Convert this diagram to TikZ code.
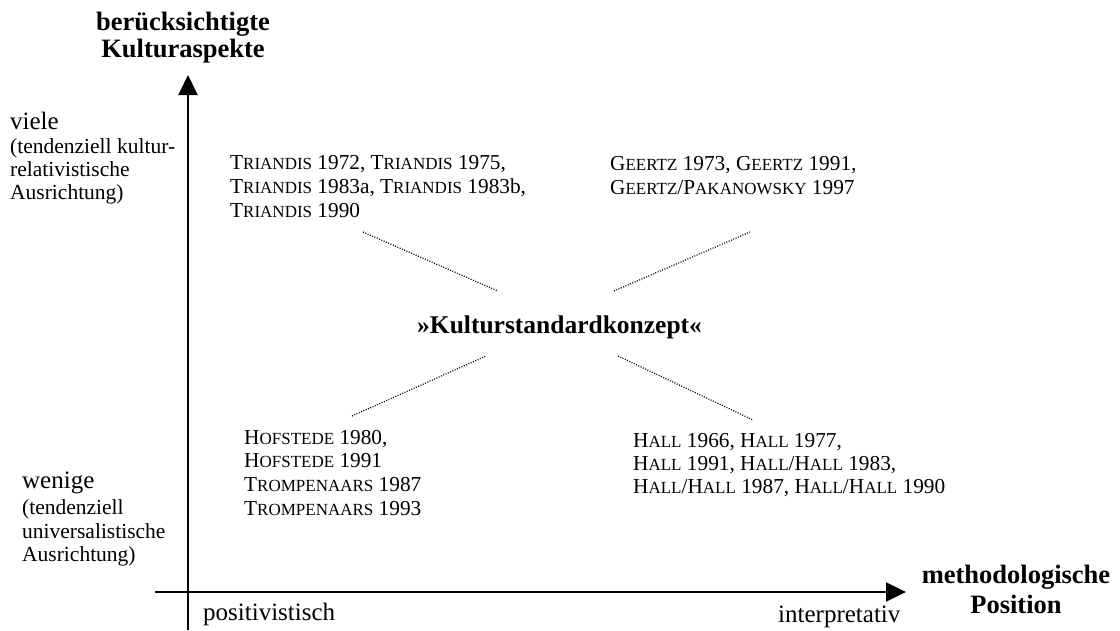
\documentclass[tikz,border=0pt]{standalone}
\usepackage{fontspec}
\setmainfont{Liberation Serif}
\usetikzlibrary{arrows.meta}
\newcommand\Sc[2]{#1{\fontsize{17}{17}\selectfont #2}}
\begin{document}
\begin{tikzpicture}[x=1pt,y=-1pt,
  ref/.style={font=\fontsize{21.3}{24}\selectfont, anchor=base west, inner sep=0pt},
  lbl/.style={font=\fontsize{21.5}{23}\selectfont, anchor=base west, inner sep=0pt},
  big/.style={font=\fontsize{25}{28}\selectfont, anchor=base west, inner sep=0pt},
  ttl/.style={font=\bfseries\fontsize{26.5}{28}\selectfont, anchor=base, inner sep=0pt},
  axis/.style={line width=2pt, -{Triangle[length=20pt,width=19pt]}},
  dots/.style={line width=1.2pt, dash pattern=on 1pt off 1.5pt}]
\useasboundingbox (0,0) rectangle (1120,630);
% axes
\coordinate (yb) at (188,630);
\coordinate (yt) at (188,75);
\coordinate (xl) at (155,592);
\coordinate (xr) at (906,592);
\draw[axis] (yb) -- (yt);
\draw[axis] (xl) -- (xr);
% axis titles
\node[ttl] (yt1) at (183,30) {berücksichtigte};
\node[ttl] (yt2) at (183,57) {Kulturaspekte};
\node[ttl] (xt1) at (1016,583) {methodologische};
\node[ttl] (xt2) at (1016,613) {Position};
% left labels
\node[big] (viele) at (10,129) {viele};
\node[lbl] (v1) at (10,153) {(tendenziell kultur-};
\node[lbl] (v2) at (10,176) {relativistische};
\node[lbl] (v3) at (10,199) {Ausrichtung)};
\node[big] (wenige) at (22,488) {wenige};
\node[lbl] (w1) at (22,514) {(tendenziell};
\node[lbl] (w2) at (22,538) {universalistische};
\node[lbl] (w3) at (22,561) {Ausrichtung)};
% bottom labels
\node[big] (pos) at (203,620) {positivistisch};
\node[big] (int) at (778,622) {interpretativ};
% centre
\node[ttl,anchor=base west,font=\bfseries\fontsize{25.5}{28}\selectfont] (ks) at (417,333) {»Kulturstandardkonzept«};
% references
\node[ref] (t1) at (230,169) {\Sc{T}{RIANDIS} 1972, \Sc{T}{RIANDIS} 1975,};
\node[ref] (t2) at (230,193) {\Sc{T}{RIANDIS} 1983a, \Sc{T}{RIANDIS} 1983b,};
\node[ref] (t3) at (230,217) {\Sc{T}{RIANDIS} 1990};
\node[ref] (g1) at (610,170) {\Sc{G}{EERTZ} 1973, \Sc{G}{EERTZ} 1991,};
\node[ref] (g2) at (610,194) {\Sc{G}{EERTZ}/\Sc{P}{AKANOWSKY} 1997};
\node[ref] (h1) at (244,444) {\Sc{H}{OFSTEDE} 1980,};
\node[ref] (h2) at (244,467) {\Sc{H}{OFSTEDE} 1991};
\node[ref] (h3) at (244,491) {\Sc{T}{ROMPENAARS} 1987};
\node[ref] (h4) at (244,515) {\Sc{T}{ROMPENAARS} 1993};
\node[ref] (a1) at (633,447) {\Sc{H}{ALL} 1966, \Sc{H}{ALL} 1977,};
\node[ref] (a2) at (633,470) {\Sc{H}{ALL} 1991, \Sc{H}{ALL}/\Sc{H}{ALL} 1983,};
\node[ref] (a3) at (633,493) {\Sc{H}{ALL}/\Sc{H}{ALL} 1987, \Sc{H}{ALL}/\Sc{H}{ALL} 1990};
% dotted connectors
\coordinate (tlA) at (363,232); \coordinate (tlB) at (498,291);
\coordinate (trA) at (614,291); \coordinate (trB) at (750,232);
\coordinate (blA) at (352,416); \coordinate (blB) at (486,356);
\coordinate (brA) at (618,356); \coordinate (brB) at (753,420);
\draw[dots] (tlA) -- (tlB);
\draw[dots] (trA) -- (trB);
\draw[dots] (blA) -- (blB);
\draw[dots] (brA) -- (brB);
\end{tikzpicture}
\end{document}
